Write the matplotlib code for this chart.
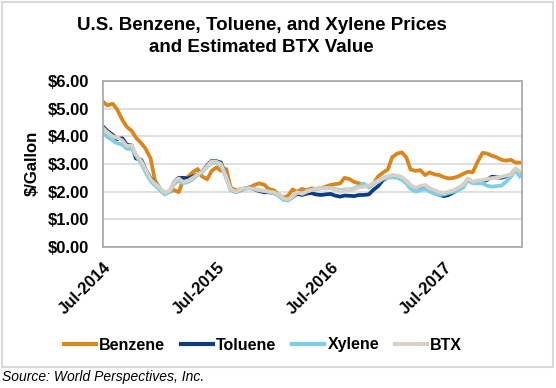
import matplotlib
matplotlib.use("Agg")
import matplotlib.pyplot as plt
from matplotlib.patches import Rectangle
import pandas as pd

plt.rcParams['font.family'] = ['Liberation Sans', 'DejaVu Sans']

# Semi-monthly observation dates, Jul-2014 .. Mar-2018
dates = pd.date_range('2014-07-01', periods=89, freq='SMS')

benzene = [5.25, 5.12, 5.18, 4.98, 4.6, 4.35, 4.2, 3.95, 3.75, 3.55,
           3.2, 2.4, 2.08, 1.95, 2.0, 2.06, 1.98, 2.4, 2.55, 2.7,
           2.82, 2.55, 2.45, 2.75, 2.88, 2.75, 2.82, 2.15, 2.05, 2.08,
           2.12, 2.15, 2.25, 2.3, 2.25, 2.1, 2.05, 1.9, 1.78, 1.85,
           2.08, 2.0, 2.1, 2.05, 2.12, 2.1, 2.13, 2.18, 2.24, 2.27,
           2.3, 2.5, 2.45, 2.35, 2.3, 2.24, 2.2, 2.28, 2.55, 2.68,
           2.8, 3.25, 3.38, 3.42, 3.25, 2.8, 2.75, 2.78, 2.6, 2.7,
           2.62, 2.6, 2.52, 2.48, 2.5, 2.55, 2.65, 2.72, 2.7, 3.05,
           3.4, 3.38, 3.3, 3.25, 3.15, 3.12, 3.15, 3.05, 3.05]

toluene = [4.35, 4.2, 4.05, 3.9, 3.93, 3.7, 3.68, 3.2, 3.15, 2.8,
           2.48, 2.32, 2.1, 1.92, 2.02, 2.35, 2.5, 2.5, 2.48, 2.55,
           2.62, 2.72, 2.95, 3.12, 3.1, 3.05, 2.55, 2.08, 1.98, 2.05,
           2.12, 2.15, 2.08, 2.02, 1.98, 1.98, 1.95, 1.88, 1.72, 1.7,
           1.8, 1.92, 1.88, 1.93, 1.95, 1.9, 1.88, 1.9, 1.92, 1.86,
           1.82, 1.86, 1.85, 1.84, 1.88, 1.88, 1.9, 2.06, 2.2, 2.4,
           2.52, 2.58, 2.56, 2.5, 2.38, 2.2, 2.1, 2.15, 2.2, 2.1,
           1.98, 1.88, 1.84, 1.88, 1.98, 2.1, 2.25, 2.42, 2.32, 2.35,
           2.38, 2.42, 2.54, 2.52, 2.5, 2.55, 2.62, 2.82, 2.7]

xylene = [4.1, 3.98, 3.85, 3.75, 3.7, 3.55, 3.55, 3.3, 3.02, 2.7,
          2.38, 2.22, 2.05, 1.9, 2.0, 2.28, 2.4, 2.3, 2.35, 2.45,
          2.6, 2.7, 2.9, 3.05, 3.05, 2.95, 2.5, 2.06, 1.98, 2.05,
          2.1, 2.12, 2.08, 2.05, 2.02, 2.0, 1.95, 1.86, 1.7, 1.68,
          1.8, 1.96, 1.94, 2.02, 2.06, 2.1, 2.12, 2.12, 2.13, 2.1,
          2.05, 2.08, 2.08, 2.12, 2.2, 2.3, 2.15, 2.28, 2.35, 2.45,
          2.5, 2.52, 2.5, 2.42, 2.3, 2.1, 2.0, 2.05, 2.1, 2.0,
          1.92, 1.88, 1.9, 1.95, 2.0, 2.06, 2.15, 2.45, 2.3, 2.3,
          2.3, 2.22, 2.18, 2.2, 2.22, 2.35, 2.55, 2.78, 2.55]

btx = [4.3, 4.15, 4.0, 3.95, 3.85, 3.65, 3.68, 3.35, 3.1, 2.8,
       2.45, 2.3, 2.12, 1.95, 2.05, 2.35, 2.48, 2.35, 2.4, 2.5,
       2.62, 2.72, 2.92, 3.1, 3.08, 3.0, 2.55, 2.1, 2.0, 2.08,
       2.13, 2.13, 2.1, 2.06, 2.03, 2.0, 1.97, 1.9, 1.75, 1.72,
       1.82, 1.98, 1.92, 2.0, 2.06, 2.1, 2.13, 2.13, 2.13, 2.08,
       2.0, 2.06, 2.06, 2.1, 2.15, 2.18, 2.22, 2.3, 2.4, 2.49,
       2.55, 2.6, 2.58, 2.52, 2.4, 2.24, 2.13, 2.2, 2.24, 2.13,
       2.05, 1.98, 1.95, 2.0, 2.06, 2.15, 2.25, 2.48, 2.36, 2.4,
       2.42, 2.45, 2.49, 2.5, 2.54, 2.58, 2.62, 2.85, 2.72]

series_names = ['Benzene', 'Toluene', 'Xylene', 'BTX']
series_colors = ['#D9861C', '#0B3C84', '#7CCFE6', '#D8D0C5']
xtick_dates = ['2014-07-01', '2015-07-01', '2016-07-01', '2017-07-01']
xtick_labels = ['Jul-2014', 'Jul-2015', 'Jul-2016', 'Jul-2017']
ytick_values = [0, 1, 2, 3, 4, 5, 6]
ytick_labels = ['$0.00', '$1.00', '$2.00', '$3.00', '$4.00', '$5.00', '$6.00']

W, H = 556, 388
fig = plt.figure(figsize=(W / 100, H / 100), dpi=100)
fig.patch.set_facecolor('white')

# outer border
fig.patches.append(Rectangle((2 / W, 1 - 367 / H), 551 / W, 365 / H,
                             transform=fig.transFigure, fill=False,
                             edgecolor='#D9D9D9', linewidth=1.5))

ax = fig.add_axes([103 / W, 1 - 247 / H, 419 / W, 166 / H])

for vals, name, col in zip([benzene, toluene, xylene, btx], series_names, series_colors):
    ax.plot(dates, vals, color=col, linewidth=2.7, label=name, solid_joinstyle='round')

ax.set_ylim(0, 6)
ax.set_xlim(pd.Timestamp('2014-07-01'), pd.Timestamp('2018-03-08'))
ax.set_yticks(ytick_values)
ax.set_yticklabels(ytick_labels, fontsize=12, fontweight='bold')
ax.set_xticks([pd.Timestamp(d) for d in xtick_dates])
ax.set_xticklabels(xtick_labels, fontsize=12, fontweight='bold', rotation=45,
                   ha='right', va='top', rotation_mode='anchor')
ax.tick_params(axis='both', length=0)
ax.tick_params(axis='y', pad=10)
ax.tick_params(axis='x', pad=9)
ax.grid(axis='y', color='#D9D9D9', linewidth=1.2)
ax.set_axisbelow(True)
for s in ax.spines.values():
    s.set_color('#ABABAB')
    s.set_linewidth(1.3)

fig.text(32 / W, 1 - 163 / H, '$/Gallon', rotation=90, fontsize=12,
         fontweight='bold', ha='center', va='center')

fig.text(0.5 * (76 + 447) / W, 1 - 26 / H, 'U.S. Benzene, Toluene, and Xylene Prices',
         fontsize=13.5, fontweight='bold', ha='center', va='center')
fig.text(0.5 * (76 + 447) / W, 1 - 48 / H, 'and Estimated BTX Value',
         fontsize=13.5, fontweight='bold', ha='center', va='center')

handles, labels = ax.get_legend_handles_labels()
leg = fig.legend(handles, labels, loc='center', bbox_to_anchor=(263 / W, 1 - 345 / H),
                 ncol=4, frameon=False, prop={'size': 11.5, 'weight': 'bold'},
                 handlelength=2.0, handletextpad=0.2, columnspacing=1.0)
for ln in leg.get_lines():
    ln.set_linewidth(3)

fig.text(2 / W, 1 - 377 / H, 'Source: World Perspectives, Inc.', fontsize=10,
         style='italic', ha='left', va='center')

fig.savefig('out.png', dpi=100, facecolor='white')
